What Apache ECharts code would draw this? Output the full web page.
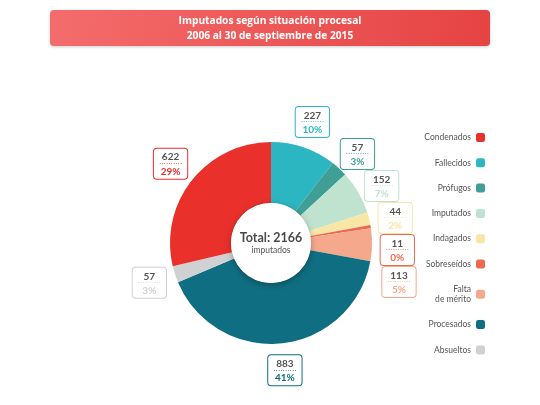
<!DOCTYPE html>
<html>
<head>
<meta charset="utf-8">
<script src="https://cdn.jsdelivr.net/npm/echarts@6/dist/echarts.min.js"></script>
<style>html,body{margin:0;padding:0;background:#fff}#chart{width:540px;height:405px}</style>
</head>
<body>
<div id="chart"></div>
<script>
// 类别（饼图顺时针顺序，从 12 点开始）
const categories = ['Fallecidos', 'Prófugos', 'Imputados', 'Indagados', 'Sobreseídos', 'Falta\nde mérito', 'Procesados', 'Absueltos', 'Condenados']
const values = [227, 57, 152, 44, 11, 113, 883, 57, 622]
const colors = ['#2cb6c1', '#3f9f96', '#bfe3cf', '#f8e6a6', '#eb6a4f', '#f5a88c', '#0f6e81', '#d0d1d3', '#e9302b']
// 图例顺序
const legendOrder = ['Condenados', 'Fallecidos', 'Prófugos', 'Imputados', 'Indagados', 'Sobreseídos', 'Falta\nde mérito', 'Procesados', 'Absueltos']
const titleLines = ['Imputados según situación procesal', '2006 al 30 de septiembre de 2015']

const font = 'Lato, "Open Sans", sans-serif'
const total = values.reduce((a, b) => a + b, 0)
const pieCenter = [271, 243]

// 准备数据
const pieData = categories.map((name, i) => ({
    name: name,
    value: values[i],
    itemStyle: { color: colors[i] },
    label: {
        borderColor: colors[i],
        rich: {
            p: { color: colors[i] },
            s: { color: colors[i] }
        }
    }
}))

const cs = echarts.init(document.getElementById('chart'))
const option = {
    animation: false,
    graphic: [
        {
            type: 'rect',
            shape: { x: 50, y: 10, width: 440, height: 36, r: 4 },
            style: {
                fill: new echarts.graphic.LinearGradient(0, 0, 1, 1, [
                    { offset: 0, color: '#f46c6c' },
                    { offset: 1, color: '#e64343' }
                ]),
                shadowBlur: 3,
                shadowColor: 'rgba(0,0,0,0.2)',
                shadowOffsetY: 1
            }
        },
        {
            type: 'text',
            x: 270,
            y: 29,
            style: {
                text: titleLines.join('\n'),
                align: 'center',
                verticalAlign: 'middle',
                fill: '#fff',
                font: 'bold 10.2px "Open Sans", sans-serif',
                lineHeight: 15
            }
        }
    ],
    legend: {
        orient: 'vertical',
        right: 50,
        top: 128,
        align: 'right',
        itemWidth: 9,
        itemHeight: 9,
        itemGap: 16.3,
        icon: 'roundRect',
        data: legendOrder,
        // 多行图例文字右对齐
        formatter: name => name.split('\n').map(s => '{r|' + s + '}').join('\n'),
        textStyle: {
            fontSize: 8.5, color: '#555', fontFamily: font, align: 'right',
            rich: { r: { fontSize: 8.5, color: '#555', fontFamily: font, align: 'right', lineHeight: 10 } }
        }
    },
    series: [
        {
            type: 'pie',
            center: pieCenter,
            radius: [40, 101],
            startAngle: 90,
            clockwise: true,
            percentPrecision: 0,
            avoidLabelOverlap: false,
            data: pieData,
            label: {
                position: 'outside',
                formatter: '{v|{c}}\n{s|··········}\n{p|{d}%}',
                backgroundColor: '#fff',
                borderWidth: 1,
                borderRadius: 3,
                padding: [3, 5, 1, 5],
                align: 'center',
                rich: {
                    v: { fontSize: 10, fontWeight: 'bold', color: '#555', fontFamily: font, lineHeight: 11, align: 'center' },
                    s: { fontSize: 7, lineHeight: 3, align: 'center' },
                    p: { fontSize: 10, fontWeight: 'bold', fontFamily: font, lineHeight: 12, align: 'center' }
                }
            },
            labelLine: { show: true, length: 27, length2: 0, lineStyle: { opacity: 0 } },
            // 标签居中放在引导线末端，右侧标签向下错开避免重叠
            labelLayout: function (params) {
                const pts = params.labelLinePoints
                if (!pts) return {}
                const end = pts[pts.length - 1]
                const res = { x: end[0], y: end[1], align: 'center', verticalAlign: 'middle' }
                if (end[0] > pieCenter[0] && end[1] < pieCenter[1] + 60) res.moveOverlap = 'shiftY'
                return res
            }
        },
        {
            type: 'pie',
            center: pieCenter,
            radius: [0, 40],
            silent: true,
            data: [{ name: 'Total', value: total }],
            itemStyle: {
                color: '#fff',
                shadowBlur: 6,
                shadowColor: 'rgba(0,0,0,0.3)',
                shadowOffsetY: 2
            },
            label: {
                position: 'center',
                formatter: '{t|Total: {c}}\n{u|imputados}',
                rich: {
                    t: { fontSize: 12.5, fontWeight: 'bold', color: '#4a4a4a', fontFamily: font, lineHeight: 14 },
                    u: { fontSize: 8.5, color: '#555', fontFamily: font, lineHeight: 11 }
                }
            },
            labelLine: { show: false }
        }
    ]
}
cs.setOption(option)
</script>
</body>
</html>
